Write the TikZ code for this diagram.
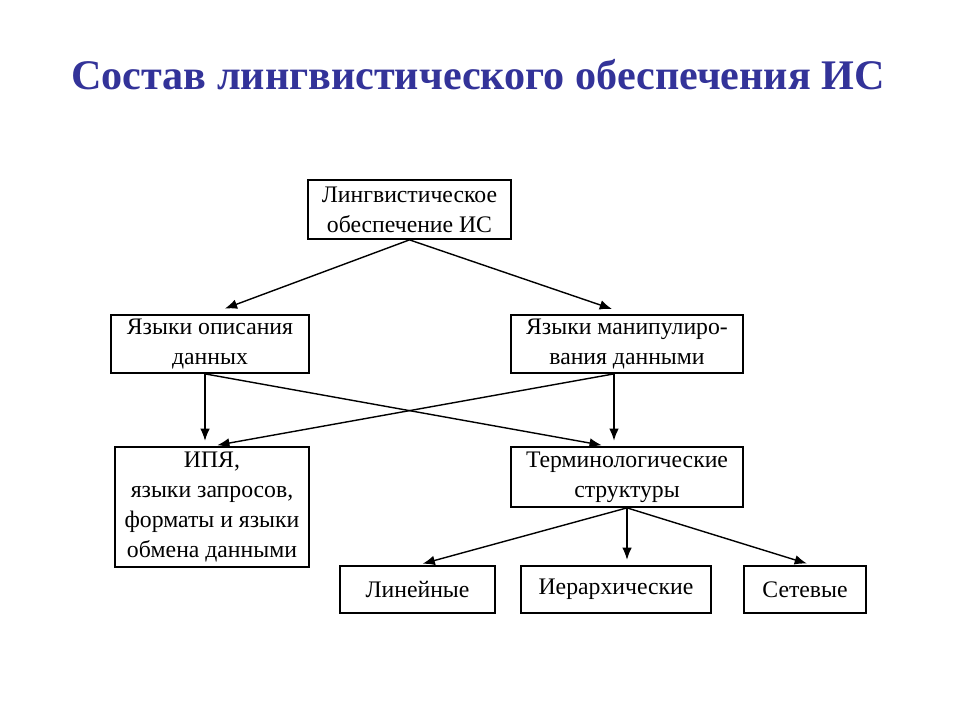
\documentclass[tikz,border=0pt]{standalone}
\usepackage{fontspec}
\setmainfont{Liberation Serif}
\usetikzlibrary{arrows.meta,calc}
\definecolor{titleblue}{RGB}{51,51,153}

\begin{document}
\begin{tikzpicture}[x=0.02cm, y=-0.02cm]

\tikzset{drawbox/.style={draw, line width=1pt, rectangle, inner sep=0pt, align=center, font=\fontsize{13.5}{17}\selectfont}}
\tikzset{drawline/.style={line width=0.8pt, -{Latex[length=7pt,width=5.5pt]}, shorten >=3pt}}

\useasboundingbox[fill=white] (0,0) rectangle (960,720);

% figure title
\node[titleblue, font=\fontsize{24}{28}\selectfont\bfseries] at (478, 75) (title) {Состав лингвистического обеспечения ИС};

% top level
\node[drawbox, minimum width=4.06cm, minimum height=1.18cm] at (409.5, 209.5) (ling) {Лингвистическое\\обеспечение ИС};

% languages
\node[drawbox, minimum width=3.96cm, minimum height=1.16cm] at (210, 344) (descr) {Языки описания\\данных};
\node[drawbox, minimum width=4.64cm, minimum height=1.16cm] at (627, 344) (manip) {Языки манипулиро-\\вания данными};

% results
\node[drawbox, minimum width=3.88cm, minimum height=2.4cm] at (212, 507) (ipya) {ИПЯ,\\ языки запросов,\\форматы и языки\\обмена данными};
\node[drawbox, minimum width=4.64cm, minimum height=1.2cm] at (627, 477) (term) {Терминологические\\структуры};

% structures
\node[drawbox, minimum width=3.1cm, minimum height=0.94cm] at (417.5, 589.5) (lin) {Линейные};
\node[drawbox, minimum width=3.8cm, minimum height=0.94cm] at (616, 589.5) (hier) {Иерархические};
\node[drawbox, minimum width=2.44cm, minimum height=0.94cm] at (805, 589.5) (net) {Сетевые};

% connectors
\coordinate (manip-out) at ($(manip.south)+(-13,0)$);
\draw[drawline, shorten >=9pt] (ling.south) -- (descr.north);
\draw[drawline, shorten >=9pt] (ling.south) -- (manip.north);
\draw[drawline] ([xshift=-0.1cm]descr.south) -- ([xshift=-0.1cm]descr.south |- ipya.north);
\draw[drawline] ([xshift=-0.1cm]descr.south) -- ($(term.north)+(-20,0)$);
\draw[drawline] (manip-out) -- (ipya.north);
\draw[drawline, line width=1.1pt] (manip-out) -- (manip-out |- term.north);
\draw[drawline] (term.south) -- (lin.north);
\draw[drawline] (term.south) -- (term.south |- hier.north);
\draw[drawline] (term.south) -- ($(net.north)+(7,0)$);

\end{tikzpicture}
\end{document}
